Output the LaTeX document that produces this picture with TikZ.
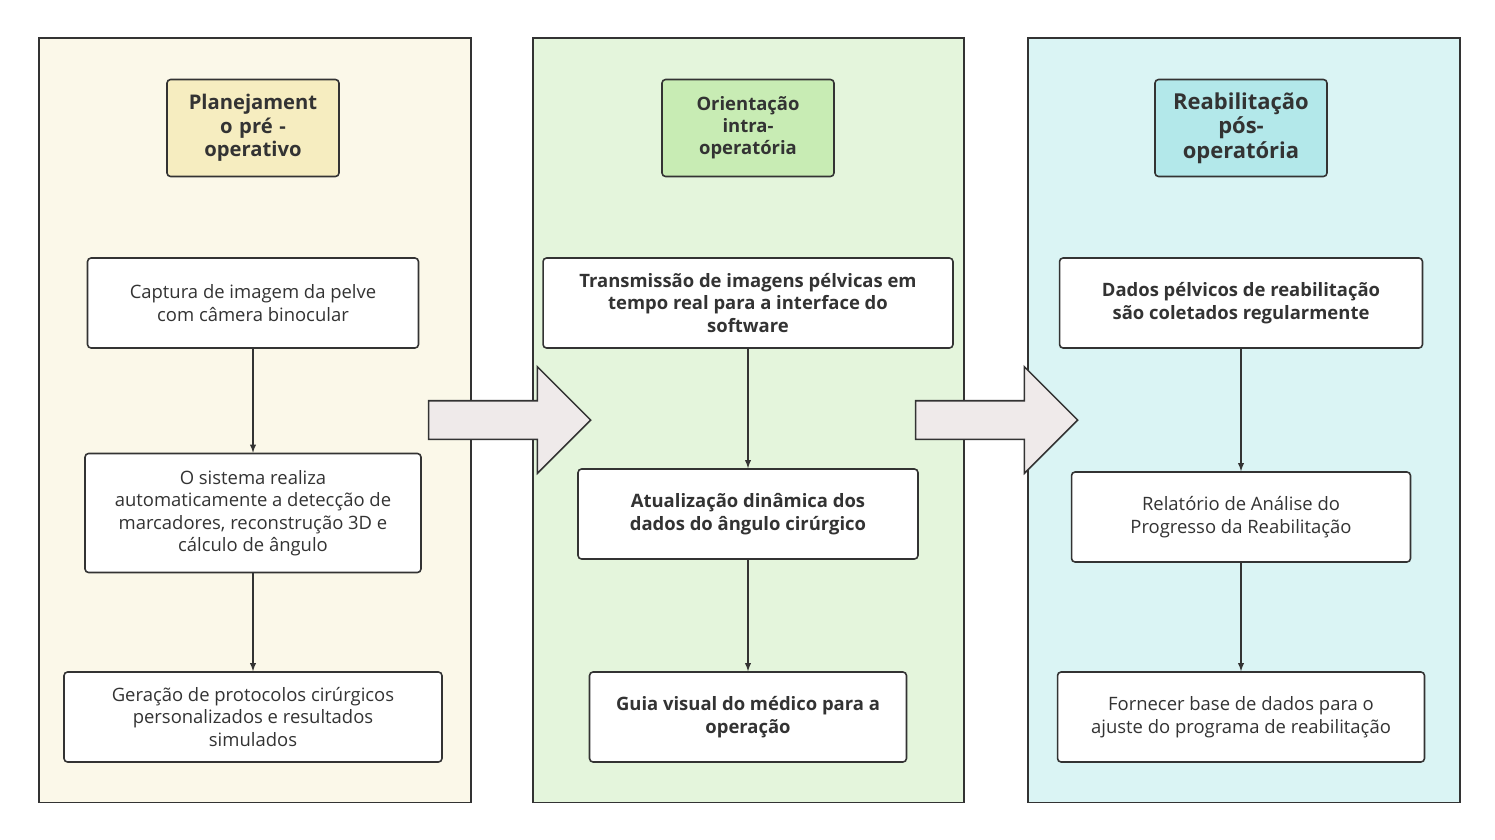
\documentclass[tikz,border=0pt]{standalone}
\usepackage{fontspec}
\setmainfont{Open Sans}
\usetikzlibrary{positioning,shapes.arrows}
\definecolor{bgA}{HTML}{FBF8E9}
\definecolor{bgB}{HTML}{E4F5DC}
\definecolor{bgC}{HTML}{DAF4F4}
\definecolor{hdA}{HTML}{F6EDC0}
\definecolor{hdB}{HTML}{C8ECB4}
\definecolor{hdC}{HTML}{B3E8EA}
\definecolor{edge}{HTML}{333333}
\definecolor{flow}{HTML}{EFEAEA}
\begin{document}
\begin{tikzpicture}[x=0.02cm,y=-0.02cm,>=latex,
    panel/.style={draw=edge,line width=0.9pt,anchor=north west,inner sep=0pt},
    head/.style={draw=edge,line width=0.9pt,rounded corners=2pt,align=center,font=\fontsize{11.5}{13.5}\selectfont\bfseries,text=edge,minimum height=1.94cm,minimum width=3.44cm},
    stepbox/.style={draw=edge,fill=white,line width=0.9pt,rounded corners=2pt,align=center,font=\fontsize{10.5}{12.8}\selectfont,text=edge,minimum height=1.8cm},
    bstepbox/.style={stepbox,font=\fontsize{10.5}{12.8}\selectfont\bfseries},
    link/.style={->,draw=edge,line width=0.6pt},
    move/.style={single arrow,draw=edge,fill=flow,line width=0.9pt,minimum height=3.24cm,inner xsep=0pt,inner ysep=0.37cm,single arrow head extend=0.68cm,single arrow tip angle=90}]
\useasboundingbox (0,0) rectangle (1495,839);
% panels
\node[panel,fill=bgA,minimum width=8.64cm,minimum height=15.3cm] (pA) at (38,37) {};
\node[panel,fill=bgB,minimum width=8.62cm,minimum height=15.3cm] (pB) at (532,37) {};
\node[panel,fill=bgC,minimum width=8.64cm,minimum height=15.3cm] (pC) at (1027,37) {};
% headers
\node[head,fill=hdA,text width=3.1cm] (hA) at (253,128) {Planejament\\o pré -\\operativo};
\node[head,fill=hdB,text width=3.1cm,font=\fontsize{10.5}{12.6}\selectfont\bfseries] (hB) at (748,128) {Orientação\\intra-\\operatória};
\node[head,fill=hdC,text width=3.1cm,font=\fontsize{12.5}{14}\selectfont\bfseries] (hC) at (1241,128) {Reabilitação\\pós-\\operatória};
% first column
\node[stepbox,minimum width=6.62cm] (a1) at (253,303) {Captura de imagem da pelve\\com câmera binocular};
\node[stepbox,minimum width=6.72cm,minimum height=2.38cm] (a2) at (253,513) {O sistema realiza\\automaticamente a detecção de\\marcadores, reconstrução 3D e\\cálculo de ângulo};
\node[stepbox,minimum width=7.56cm] (a3) at (253,717) {Geração de protocolos cirúrgicos\\personalizados e resultados\\simulados};
% second column
\node[bstepbox,minimum width=8.2cm] (b1) at (748,303) {Transmissão de imagens pélvicas em\\tempo real para a interface do\\software};
\node[bstepbox,minimum width=6.8cm] (b2) at (748,514) {Atualização dinâmica dos\\dados do ângulo cirúrgico};
\node[bstepbox,minimum width=6.34cm] (b3) at (748,717) {Guia visual do médico para a\\operação};
% third column
\node[bstepbox,minimum width=7.26cm] (c1) at (1241,303) {Dados pélvicos de reabilitação\\são coletados regularmente};
\node[stepbox,minimum width=6.78cm] (c2) at (1241,517) {Relatório de Análise do\\Progresso da Reabilitação};
\node[stepbox,minimum width=7.34cm] (c3) at (1241,717) {Fornecer base de dados para o\\ajuste do programa de reabilitação};
% links
\draw[link] (a1) -- (a2);
\draw[link] (a2) -- (a3);
\draw[link] (b1) -- (b2);
\draw[link] (b2) -- (b3);
\draw[link] (c1) -- (c2);
\draw[link] (c2) -- (c3);
% stage arrows
\node[move] (mA) at (500,420) {};
\node[move] (mB) at (987,420) {};
\end{tikzpicture}
\end{document}
